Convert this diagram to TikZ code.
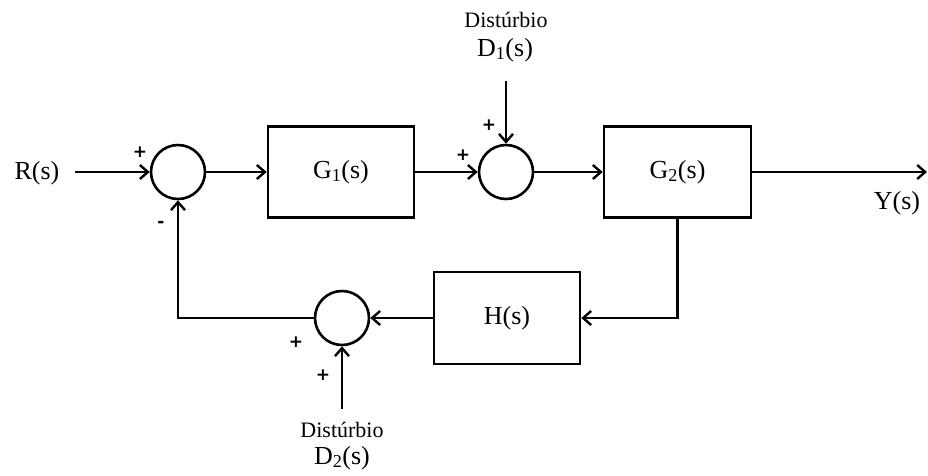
\documentclass[tikz,border=0pt]{standalone}
\usepackage{fontspec}
\setmainfont{Liberation Serif}
\newfontfamily\signfont{DejaVu Sans}
\usetikzlibrary{arrows.meta}
\begin{document}
\begin{tikzpicture}[x=1pt,y=-1pt,
  line width=2.6pt,
  arr/.style={-{Straight Barb[length=8pt,width=14pt,line width=2.4pt]}},
  sumnode/.style={draw,circle,minimum size=54pt,inner sep=0pt},
  blk/.style={draw,rectangle,inner sep=0pt,font=\fontsize{26}{28}\selectfont},
  lbl/.style={inner sep=0pt,font=\fontsize{26}{28}\selectfont},
  dlbl/.style={inner sep=0pt,font=\fontsize{22}{24}\selectfont},
  sgn/.style={inner sep=0pt,font=\signfont\bfseries\fontsize{17}{17}\selectfont}]
\useasboundingbox (0,0) rectangle (928,475);
\node[sumnode] (s1) at (178,172) {};
\node[blk,minimum width=146pt,minimum height=91pt] (g1) at (341,172) {G\textsubscript{1}(s)};
\node[sumnode] (s2) at (506,172) {};
\node[blk,minimum width=147pt,minimum height=91pt] (g2) at (677.5,172) {G\textsubscript{2}(s)};
\node[blk,minimum width=146pt,minimum height=92pt] (h) at (507,318) {H(s)};
\node[sumnode] (s3) at (342,318) {};
\node[lbl] (r) at (37,173) {R(s)};
\coordinate (rin) at (75,172);
\coordinate (yout) at (927,172);
\node[lbl] (y) at (897,203) {Y(s)};
\node[dlbl] (dist1) at (506,20) {Distúrbio};
\node[lbl] (d1) at (505,50) {D\textsubscript{1}(s)};
\coordinate (d1top) at (506,81);
\node[dlbl] (dist2) at (342,430) {Distúrbio};
\node[lbl] (d2) at (342,458) {D\textsubscript{2}(s)};
\coordinate (d2bot) at (342,409);
\coordinate (fbr) at (677.5,318);
\coordinate (fbl) at (178,318);
\node[sgn] (p1) at (140,152) {+};
\node[sgn] (m1) at (161,224) {-};
\node[sgn] (p2) at (463,155) {+};
\node[sgn] (p3) at (489,125) {+};
\node[sgn] (p4) at (296,342) {+};
\node[sgn] (p5) at (323,375) {+};
\draw[arr] (rin) -- (s1.west);
\draw[arr] (s1.east) -- (g1.west);
\draw[arr] (g1.east) -- (s2.west);
\draw[arr] (d1top) -- (s2.north);
\draw[arr] (s2.east) -- (g2.west);
\draw[arr] (g2.east) -- (yout);
\draw[arr] (g2.south) -- (fbr) -- (h.east);
\draw[arr] (h.west) -- (s3.east);
\draw[arr] (d2bot) -- (s3.south);
\draw[arr] (s3.west) -- (fbl) -- (s1.south);
\end{tikzpicture}
\end{document}
